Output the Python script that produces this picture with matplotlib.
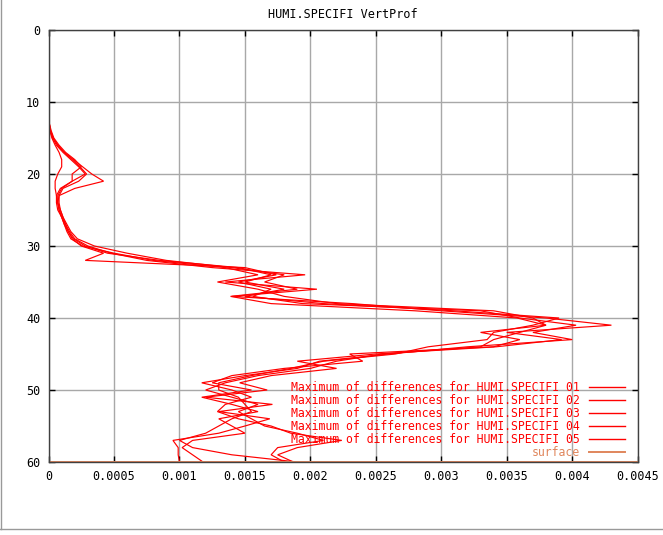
import numpy as np
import matplotlib
matplotlib.use("Agg")
import matplotlib.pyplot as plt
from matplotlib.lines import Line2D

levels = list(range(0, 61))

# values in units of 1e-4 (kg/kg)
s1 = [0]*12 + [0.02, 0.05, 0.15, 0.35, 0.7, 1.2, 1.9, 2.6, 3.3, 4.2, 2.0, 0.8, 0.7, 0.8, 1.0, 1.3, 1.6,
               2.0, 3.0, 4.8, 7.5, 12.5, 19.6, 13.5, 20.5, 14.0, 23.2, 30.0, 38.0, 43.0, 35.0, 39.2, 34.2,
               25.0, 19.0, 22.0, 17.0, 14.6, 16.7, 12.0, 17.1, 13.0, 16.9, 15.0, 13.0, 9.5, 9.9, 9.9, 10.0]
s2 = [0]*12 + [0.01, 0.04, 0.12, 0.3, 0.6, 1.1, 1.7, 2.3, 2.8, 1.8, 0.9, 0.6, 0.6, 0.7, 1.0, 1.2, 1.5,
               1.8, 2.5, 4.2, 2.8, 15.0, 17.4, 14.5, 17.0, 15.6, 19.4, 33.0, 36.0, 40.3, 37.0, 40.0, 32.0,
               26.0, 20.7, 19.0, 15.0, 11.7, 14.0, 15.5, 13.5, 12.9, 14.5, 17.0, 18.5, 22.4, 19.0, 17.5, 18.7]
s3 = [0]*12 + [0.0, 0.03, 0.1, 0.25, 0.5, 0.8, 1.0, 1.0, 0.7, 0.5, 0.5, 0.6, 0.7, 0.9, 1.1, 1.4, 1.7,
               2.2, 3.5, 6.0, 9.0, 14.0, 18.0, 16.5, 19.0, 13.9, 17.0, 28.0, 35.8, 38.0, 33.0, 36.0, 34.0,
               23.0, 24.0, 18.0, 14.0, 12.5, 15.5, 11.7, 14.0, 16.0, 13.0, 14.0, 15.0, 11.0, 10.2, 11.0, 11.8]
s4 = [0]*12 + [0.02, 0.06, 0.2, 0.4, 0.8, 1.3, 2.0, 2.5, 1.8, 1.8, 1.0, 0.7, 0.7, 0.8, 1.0, 1.2, 1.4,
               1.7, 2.6, 5.0, 8.0, 13.5, 16.0, 12.9, 16.0, 18.0, 22.0, 34.0, 37.0, 38.0, 36.0, 34.0, 33.0,
               25.5, 22.0, 20.0, 16.0, 13.5, 12.0, 14.0, 16.0, 14.5, 15.5, 16.5, 19.0, 21.0, 17.5, 17.0, 18.0]
s5 = [0]*12 + [0.01, 0.05, 0.15, 0.35, 0.7, 1.2, 1.8, 2.4, 2.9, 2.3, 1.1, 0.8, 0.8, 0.9, 1.1, 1.3, 1.5,
               1.9, 2.8, 4.5, 8.5, 14.5, 17.0, 15.0, 18.0, 15.0, 21.0, 31.0, 39.0, 37.0, 34.0, 33.5, 29.0,
               26.5, 21.0, 18.5, 15.5, 13.0, 13.0, 14.5, 15.0, 15.5, 14.0, 13.0, 12.0, 10.0, 11.0, 14.0, 19.0]
series = [s1, s2, s3, s4, s5]
labels = ["Maximum of differences for HUMI.SPECIFI 0%d" % i for i in range(1, 6)]
surface_level = 60

xticks = [0, 0.0005, 0.001, 0.0015, 0.002, 0.0025, 0.003, 0.0035, 0.004, 0.0045]
xticklabels = ["0", "0.0005", "0.001", "0.0015", "0.002", "0.0025", "0.003", "0.0035", "0.004", "0.0045"]
yticks = [0, 10, 20, 30, 40, 50, 60]

RED = "#ff0000"
ORANGE = "#e0865c"
MONO = "DejaVu Sans Mono"
FS = 8.5
LFS = 8.3

fig = plt.figure(figsize=(6.63, 5.35), dpi=100)
ax = fig.add_axes([48.6/663, 1-462/535, (637.6-48.6)/663, (462-30)/535])

for s in series:
    ax.plot(np.array(s)*1e-4, levels, color=RED, lw=0.85, solid_joinstyle="miter")
ax.axhline(surface_level, color=ORANGE, lw=1.4)

ax.set_xlim(0, 0.0045)
ax.set_ylim(60, 0)
ax.set_xticks(xticks)
ax.set_xticklabels(xticklabels, fontfamily=MONO, fontsize=FS)
ax.set_yticks(yticks)
ax.set_yticklabels([str(v) for v in yticks], fontfamily=MONO, fontsize=FS)
ax.tick_params(direction="in", length=4, width=1, top=True, right=True, colors="black",
               pad=6)
ax.grid(True, color="#a8a8a8", lw=1)
ax.set_axisbelow(True)
for sp in ax.spines.values():
    sp.set_color("#404040")
    sp.set_linewidth(1)

ax.set_title("HUMI.SPECIFI VertProf", fontfamily=MONO, fontsize=FS, pad=9)

handles = [Line2D([], [], color=RED, lw=1) for _ in series] + [Line2D([], [], color=ORANGE, lw=1.4)]
leg = ax.legend(handles, labels + ["surface"], loc="lower right", bbox_to_anchor=(0.9915, -0.012),
                markerfirst=False, frameon=False, prop={"family": MONO, "size": LFS},
                labelspacing=0.0, handlelength=3.1, handletextpad=0.75, borderaxespad=0.3)
for t in leg.get_texts()[:-1]:
    t.set_color(RED)
leg.get_texts()[-1].set_color(ORANGE)

# window frame lines
fig.add_artist(Line2D([1/663, 1/663], [1-529/535, 1], color="#999999", lw=1, transform=fig.transFigure))
fig.add_artist(Line2D([0, 1], [1-529/535, 1-529/535], color="#999999", lw=1, transform=fig.transFigure))

fig.savefig("out.png", dpi=100)
